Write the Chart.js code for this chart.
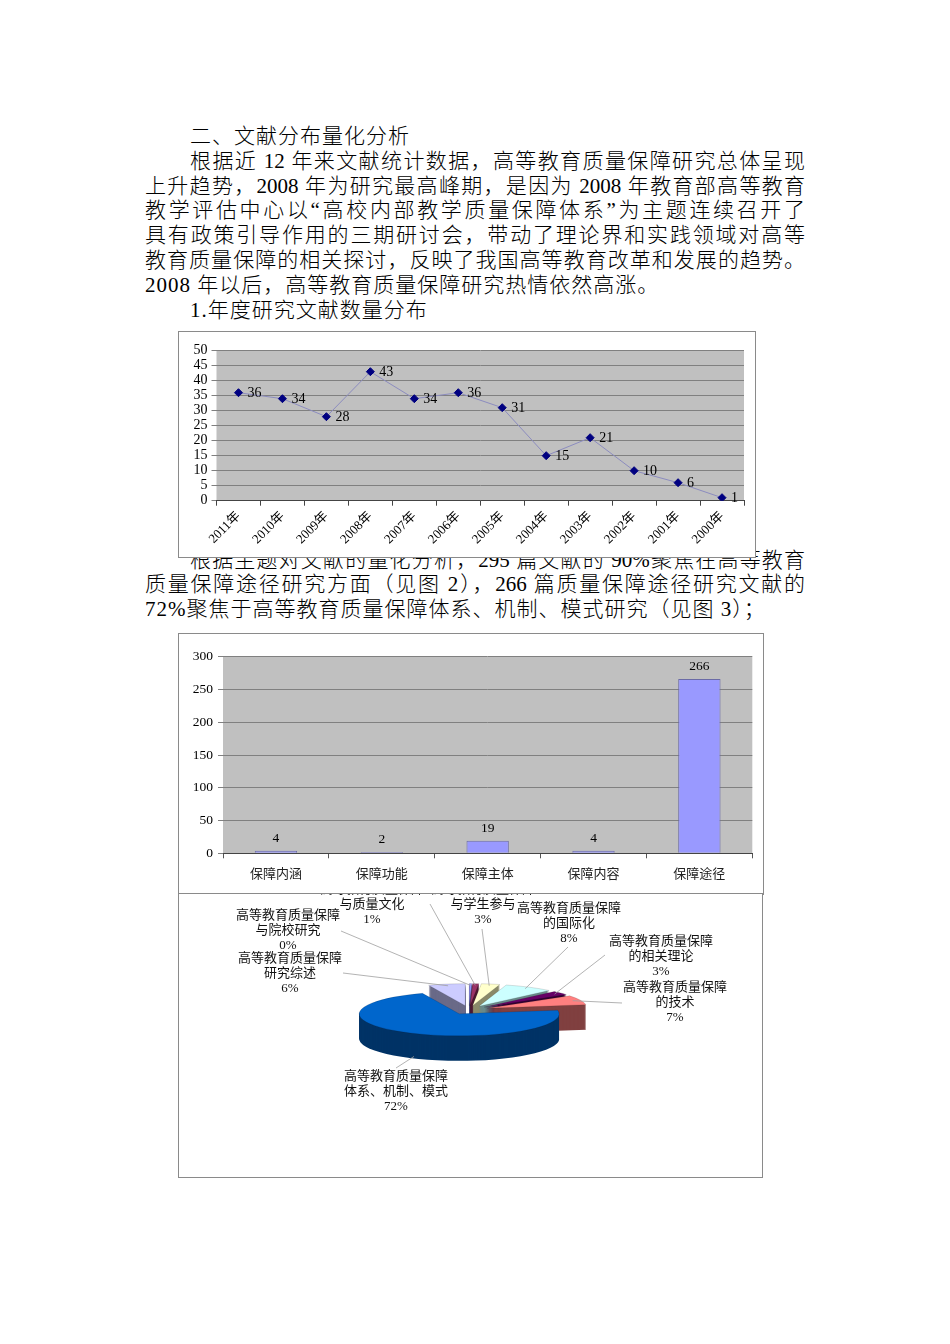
<!DOCTYPE html>
<html>
<head>
<meta charset="utf-8">
<script src="https://cdn.jsdelivr.net/npm/chart.js@4.4.0/dist/chart.umd.min.js"></script>
<style>
  body { margin: 0; background: #fff; width: 950px; height: 1344px; position: relative; overflow: hidden;
         font-family: "Liberation Serif", "Noto Sans CJK SC", serif; color: #000; }
  .ln { position: absolute; left: 145px; width: 660px; height: 25px; line-height: 25px; font-size: 21px;
        font-weight: 300; letter-spacing: 1px; z-index: 1; }
  .ind { left: 190px; width: 615px; }
  .jf { text-align: justify; text-align-last: justify; letter-spacing: 0; }
  .box { position: absolute; background: #fff; border: 1px solid #8a8a8a; z-index: 2; }
  .box canvas { position: absolute; left: 0; top: 0; }
</style>
</head>
<body>
<div class="ln ind" style="top:124px">二、文献分布量化分析</div>
<div class="ln ind jf" style="top:149px">根据近 12 年来文献统计数据，高等教育质量保障研究总体呈现</div>
<div class="ln jf" style="top:174px">上升趋势，2008 年为研究最高峰期，是因为 2008 年教育部高等教育</div>
<div class="ln jf" style="top:198px">教学评估中心以“高校内部教学质量保障体系”为主题连续召开了</div>
<div class="ln jf" style="top:223px">具有政策引导作用的三期研讨会，带动了理论界和实践领域对高等</div>
<div class="ln jf" style="top:248px">教育质量保障的相关探讨，反映了我国高等教育改革和发展的趋势。</div>
<div class="ln" style="top:273px">2008 年以后，高等教育质量保障研究热情依然高涨。</div>
<div class="ln ind" style="top:298px">1.年度研究文献数量分布</div>

<div class="box" style="left:178px; top:331px; width:576px; height:225px;">
  <canvas id="yearChart" width="576" height="225"></canvas>
</div>

<div class="ln ind jf" style="top:548px">根据主题对文献的量化分析，295 篇文献的 90%聚焦在高等教育</div>
<div class="ln jf" style="top:572px">质量保障途径研究方面（见图 2），266 篇质量保障途径研究文献的</div>
<div class="ln" style="top:597px">72%聚焦于高等教育质量保障体系、机制、模式研究（见图 3）；</div>

<div class="box" style="left:178px; top:633px; width:584px; height:260px;">
  <canvas id="themeChart" width="584" height="260"></canvas>
</div>
<div class="box" style="left:178px; top:893px; width:583px; height:283px;">
  <canvas id="pathChart" width="583" height="283"></canvas>
</div>

<script>
// 图1 年度研究文献数量
const years = ["2011年", "2010年", "2009年", "2008年", "2007年", "2006年",
               "2005年", "2004年", "2003年", "2002年", "2001年", "2000年"];
const paperCounts = [36, 34, 28, 43, 34, 36, 31, 15, 21, 10, 6, 1];
const yearAxis = [0, 50, 5];

// 图2 主题分布
const themes = ["保障内涵", "保障功能", "保障主体", "保障内容", "保障途径"];
const themeCounts = [4, 2, 19, 4, 266];
const themeAxis = [0, 300, 50];

// 图3 途径研究分布（百分比）
const pathTopics = [
  "高等教育质量保障与院校研究",
  "高等教育质量保障与质量文化",
  "高等教育质量保障与学生参与",
  "高等教育质量保障的国际化",
  "高等教育质量保障的相关理论",
  "高等教育质量保障的技术",
  "高等教育质量保障体系、机制、模式",
  "高等教育质量保障研究综述",
];
const pathShares = [0.4, 1, 3, 8, 3, 7, 72, 6];

const pieColors = ["#9999FF", "#993366", "#FFFFCC", "#CCFFFF", "#660066", "#FF8080", "#0066CC", "#CCCCFF"];
const pieSideColors = ["#4d4d80", "#4d1a33", "#8a8a6a", "#6a8a8a", "#330033", "#804040", "#003366", "#6a6a88"];
// label text [x, y] and leader start [x, y], canvas pixels
const pieLabelLayout = [
  [109, 22, 162, 37],
  [193, -4, 251, 10],
  [304, -4, 303, 35],
  [390, 15, 389, 53],
  [482, 48, 426, 61],
  [496, 94, 443, 109],
  [217, 183, 217, 174],
  [111, 65, 164, 79],
];
const pieTilt = 0.22, pieDepth = 25, pieExplode = 20;

const serif = '"Liberation Serif", "Noto Sans CJK SC", serif';

const plotBg = {
  id: "plotBg",
  beforeDraw(chart) {
    const a = chart.chartArea;
    chart.ctx.save();
    chart.ctx.fillStyle = "#C0C0C0";
    chart.ctx.fillRect(a.left, a.top, a.right - a.left, a.bottom - a.top);
    chart.ctx.restore();
  },
};

// value labels next to points / above bars
function valueLabels(dx, dy, align, size) {
  return {
    id: "valueLabels",
    afterDatasetsDraw(chart) {
      const ctx = chart.ctx;
      const ds = chart.data.datasets[0];
      ctx.save();
      ctx.font = size + "px " + serif;
      ctx.fillStyle = "#000";
      ctx.textAlign = align;
      ctx.textBaseline = "middle";
      chart.getDatasetMeta(0).data.forEach(function (el, i) {
        ctx.fillText(ds.data[i], el.x + dx, el.y + dy);
      });
      ctx.restore();
    },
  };
}

new Chart(document.getElementById("yearChart"), {
  type: "line",
  data: {
    labels: years,
    datasets: [{
      data: paperCounts,
      borderColor: "#8c8cbf",
      borderWidth: 1,
      tension: 0,
      pointStyle: "rectRot",
      pointRadius: 4,
      pointBackgroundColor: "#000080",
      pointBorderColor: "#000080",
      pointBorderWidth: 1,
    }],
  },
  options: {
    responsive: false,
    animation: false,
    layout: { padding: { top: 18.7, right: 11, left: 0, bottom: 0 } },
    scales: {
      x: {
        offset: true,
        grid: { offset: true, drawOnChartArea: false, color: "#444", tickLength: 5 },
        border: { color: "#444" },
        ticks: { autoSkip: false, minRotation: 45, maxRotation: 45, padding: 3,
                 color: "#000", font: { family: serif, size: 13 } },
        afterFit(s) { s.height = 56.3; s.paddingLeft = 0; s.paddingRight = 0; },
      },
      y: {
        min: yearAxis[0],
        max: yearAxis[1],
        grid: { color: "#808080", tickLength: 5 },
        border: { display: false },
        ticks: { stepSize: yearAxis[2], autoSkip: false, padding: 4, color: "#000",
                 font: { family: serif, size: 14, lineHeight: 0.8 } },
        afterFit(s) { s.width = 37.5; },
      },
    },
    plugins: { legend: { display: false }, tooltip: { enabled: false } },
  },
  plugins: [plotBg, valueLabels(9, 1, "left", 14)],
});

new Chart(document.getElementById("themeChart"), {
  type: "bar",
  data: {
    labels: themes,
    datasets: [{
      data: themeCounts,
      backgroundColor: "#9999FF",
      borderColor: "#6b6ba6",
      borderWidth: 1,
      barPercentage: 0.4,
      categoryPercentage: 1,
    }],
  },
  options: {
    responsive: false,
    animation: false,
    layout: { padding: { top: 22.7, right: 10.7, left: 0, bottom: 0 } },
    scales: {
      x: {
        grid: { offset: true, drawOnChartArea: false, color: "#555", tickLength: 5 },
        border: { color: "#444" },
        ticks: { padding: 8, color: "#222", font: { family: serif, size: 13 } },
        afterFit(s) { s.height = 40.7; },
      },
      y: {
        min: themeAxis[0],
        max: themeAxis[1],
        grid: { color: "#808080", tickLength: 5 },
        border: { display: false },
        ticks: { stepSize: themeAxis[2], padding: 5, color: "#000", font: { family: serif, size: 13.5 } },
        afterFit(s) { s.width = 44; },
      },
    },
    plugins: { legend: { display: false }, tooltip: { enabled: false } },
  },
  plugins: [plotBg, valueLabels(0, -12.6, "center", 13.5)],
});

// flattened, exploded pie with side walls
const pie3d = {
  id: "pie3d",
  beforeDatasetDraw(chart, args) {
    const ctx = chart.ctx;
    const arcs = args.meta.data;
    const cx = arcs[0].x, cy = arcs[0].y;
    for (let d = pieDepth; d > 0; d--) {
      arcs.forEach(function (arc, i) {
        const mid = (arc.startAngle + arc.endAngle) / 2;
        ctx.save();
        ctx.translate(cx, cy + d);
        ctx.scale(1, pieTilt);
        ctx.translate(Math.cos(mid) * pieExplode, Math.sin(mid) * pieExplode);
        ctx.beginPath();
        ctx.moveTo(0, 0);
        ctx.arc(0, 0, arc.outerRadius, arc.startAngle, arc.endAngle);
        ctx.closePath();
        ctx.fillStyle = pieSideColors[i];
        ctx.fill();
        ctx.restore();
      });
    }
    arcs.forEach(function (arc) {
      const mid = (arc.startAngle + arc.endAngle) / 2;
      ctx.save();
      ctx.translate(cx, cy);
      ctx.scale(1, pieTilt);
      ctx.translate(-cx, -cy);
      ctx.translate(Math.cos(mid) * pieExplode, Math.sin(mid) * pieExplode);
      arc.draw(ctx);
      ctx.restore();
    });
    return false;
  },
  afterDraw(chart) {
    const ctx = chart.ctx;
    const arcs = chart.getDatasetMeta(0).data;
    const total = pathShares.reduce((a, b) => a + b, 0);
    ctx.save();
    ctx.font = "13px " + serif;
    ctx.textAlign = "center";
    ctx.textBaseline = "middle";
    arcs.forEach(function (arc, i) {
      const [tx, ty, lx, ly] = pieLabelLayout[i];
      const mid = (arc.startAngle + arc.endAngle) / 2;
      const r = pieExplode + arc.outerRadius * 0.92;
      let ax = arc.x + Math.cos(mid) * r;
      let ay = arc.y + Math.sin(mid) * r * pieTilt;
      if (Math.sin(mid) > 0.5) ay += pieDepth;
      ctx.strokeStyle = "#a0a0a0";
      ctx.lineWidth = 0.8;
      ctx.beginPath();
      ctx.moveTo(lx, ly);
      ctx.lineTo(ax, ay);
      ctx.stroke();
      const name = pathTopics[i];
      const lines = [name.slice(0, 8), name.slice(8), Math.round(pathShares[i] / total * 100) + "%"];
      ctx.fillStyle = "#111";
      lines.forEach(function (s, k) { ctx.fillText(s, tx, ty + k * 15); });
    });
    ctx.restore();
  },
};

new Chart(document.getElementById("pathChart"), {
  type: "pie",
  data: {
    labels: pathTopics,
    datasets: [{
      data: pathShares,
      backgroundColor: pieColors,
      borderColor: "rgba(0,0,0,0.35)",
      borderWidth: 0.6,
    }],
  },
  options: {
    responsive: false,
    animation: false,
    radius: 100,
    layout: { padding: { top: 0, left: 0, right: 3, bottom: 51 } },
    plugins: { legend: { display: false }, tooltip: { enabled: false } },
  },
  plugins: [pie3d],
});
</script>
</body>
</html>
